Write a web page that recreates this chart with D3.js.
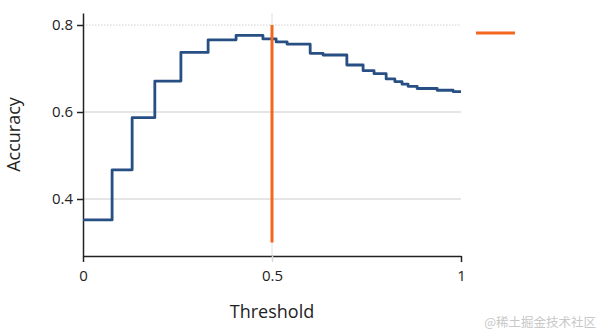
<!DOCTYPE html>
<html>
<head>
<meta charset="utf-8">
<script src="https://cdn.jsdelivr.net/npm/d3@7"></script>
<style>
  body { margin: 0; background: #fff; }
  svg { display: block; font-family: "Open Sans", "Noto Sans", sans-serif; }
</style>
</head>
<body>
<svg id="chart" width="600" height="333"></svg>
<script>
// ---- data ----
const thresholds = [0, 0.077, 0.130, 0.190, 0.259, 0.331, 0.405, 0.476, 0.511, 0.540, 0.601, 0.635, 0.698, 0.741, 0.770, 0.802, 0.825, 0.844, 0.860, 0.884, 0.937, 0.979, 1];
const accuracy   = [0.352, 0.467, 0.587, 0.671, 0.737, 0.766, 0.776, 0.768, 0.761, 0.756, 0.735, 0.731, 0.708, 0.695, 0.688, 0.676, 0.670, 0.664, 0.659, 0.654, 0.650, 0.647, 0.647];
const cutoffX = [0.5, 0.5];
const cutoffY = [0.3, 0.8];
const xTicks = [0, 0.5, 1];
const xTickLabels = ["0", "0.5", "1"];
const yTicks = [0.4, 0.6, 0.8];
const yTickLabels = ["0.4", "0.6", "0.8"];

// ---- layout ----
const svg = d3.select("#chart");
const mLeft = 83, mRight = 461, mTop = 13, mBottom = 256;
const x = d3.scaleLinear().domain([0, 1]).range([mLeft, mRight]);
const y = d3.scaleLinear().domain([0.4 - 57/435, 0.4 + 186/435]).range([mBottom, mTop]);

const grid = svg.append("g");
// horizontal gridlines
yTicks.forEach(v => {
  grid.append("line")
    .attr("x1", mLeft).attr("x2", mRight)
    .attr("y1", y(v)).attr("y2", y(v))
    .attr("stroke", v === 0.8 ? "#d0d0d0" : "#dcdcdc")
    .attr("stroke-width", v === 0.8 ? 1 : 1.5)
    .attr("stroke-dasharray", v === 0.8 ? "1.5,1.5" : null);
});
// vertical gridline at 0.5
grid.append("line")
  .attr("x1", x(0.5)).attr("x2", x(0.5))
  .attr("y1", mTop).attr("y2", mBottom)
  .attr("stroke", "#e0e0e0").attr("stroke-width", 1);

// axes
const xAxis = d3.axisBottom(x).tickValues(xTicks).tickFormat((d, i) => xTickLabels[i]).tickSize(6).tickSizeOuter(0);
const yAxis = d3.axisLeft(y).tickValues(yTicks).tickFormat((d, i) => yTickLabels[i]).tickSize(6).tickSizeOuter(0);

const gx = svg.append("g").attr("transform", `translate(0,${mBottom})`).call(xAxis);
gx.select(".domain").attr("stroke", "#222").attr("stroke-width", 1.5);
gx.selectAll(".tick line").attr("stroke", d => d === 0.5 ? "#d8d8d8" : "#222").attr("stroke-width", 1.5);
gx.selectAll(".tick text").attr("font-size", 15).attr("fill", "#222").attr("dy", "1.05em")
  .attr("font-family", "Open Sans, Noto Sans, sans-serif");

const gy = svg.append("g").attr("transform", `translate(${mLeft},0)`).call(yAxis);
gy.select(".domain").attr("stroke", "#222").attr("stroke-width", 1.5);
gy.selectAll(".tick line").attr("stroke", "#222").attr("stroke-width", 1.5);
gy.selectAll(".tick text").attr("font-size", 15).attr("fill", "#222").attr("x", -10)
  .attr("font-family", "Open Sans, Noto Sans, sans-serif");

// accuracy step line
const pts = thresholds.map((t, i) => [t, accuracy[i]]);
const line = d3.line().x(d => x(d[0])).y(d => y(d[1])).curve(d3.curveStepAfter);
svg.append("path").datum(pts)
  .attr("d", line)
  .attr("fill", "none")
  .attr("stroke", "#274f84")
  .attr("stroke-width", 2.8)
  .attr("stroke-linejoin", "round");

// cutoff line
svg.append("path").datum(cutoffX.map((v, i) => [v, cutoffY[i]]))
  .attr("d", d3.line().x(d => x(d[0])).y(d => y(d[1])))
  .attr("stroke", "#f4661e")
  .attr("stroke-width", 3);

// legend
svg.append("line")
  .attr("x1", 476).attr("x2", 515).attr("y1", 33).attr("y2", 33)
  .attr("stroke", "#f4661e").attr("stroke-width", 3);

// axis titles
svg.append("text")
  .attr("x", (mLeft + mRight) / 2).attr("y", 318)
  .attr("text-anchor", "middle").attr("font-size", 18).attr("fill", "#222")
  .text("Threshold");
svg.append("text")
  .attr("transform", `translate(20,${(mTop + mBottom) / 2}) rotate(-90)`)
  .attr("text-anchor", "middle").attr("font-size", 18).attr("fill", "#222")
  .text("Accuracy");

// watermark
svg.append("text")
  .attr("x", 596).attr("y", 327)
  .attr("text-anchor", "end").attr("font-size", 12.5).attr("fill", "#c8c8c8")
  .attr("font-family", "Noto Sans CJK SC, sans-serif")
  .text("@稀土掘金技术社区");
</script>
</body>
</html>
